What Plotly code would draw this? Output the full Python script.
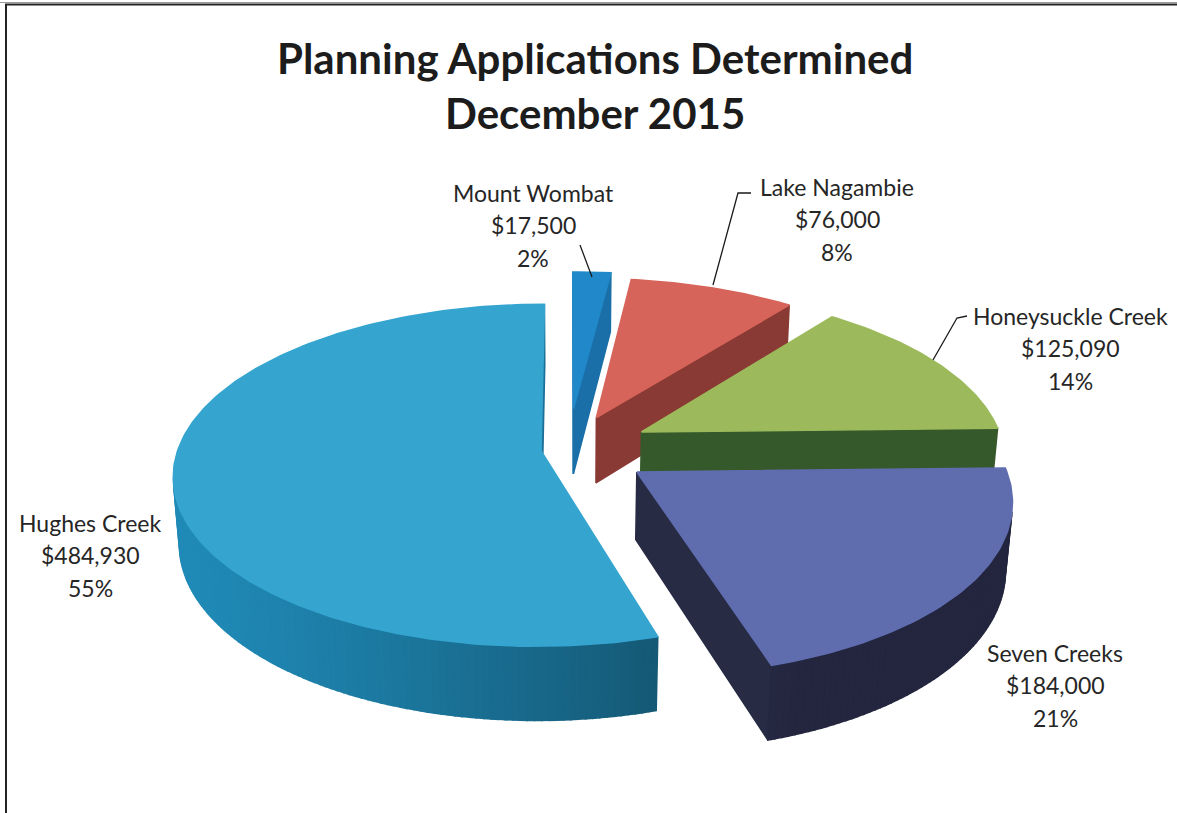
import numpy as np
import plotly.graph_objects as go

# ---------------- data ----------------
regions = ["Mount Wombat", "Lake Nagambie", "Honeysuckle Creek", "Seven Creeks", "Hughes Creek"]
values = [17500, 76000, 125090, 184000, 484930]
title_lines = ["Planning Applications Determined", "December 2015"]

# ---------------- styling ----------------
top_colors = ["#2189C9", "#D7645A", "#9CBA5B", "#5F6DAF", "#35A5D0"]
wall_colors = [(30, 125, 185), (150, 60, 55), (70, 110, 55), (57, 62, 100), (32, 138, 183)]
cut_colors = ["#1A6FA8", "#8A3A34", "#36592C", "#272B44", "#1C6F96"]
explode = [0.25, 0.21, 0.23, 0.23, 0.075]
label_centres = [(533, 225), (837, 219), (1070, 348), (1055, 685), (90, 555)]
line_gap = 32.5
leaders = [
    [(580, 245), (592, 277)],
    [(751, 193), (738, 193), (713, 285)],
    [(967, 316), (957, 318), (933, 360)],
]

W, H = 1177, 813

# ---------------- perspective camera ----------------
TILT = np.radians(27.4)
CAM_DIST = 6.22
FOCAL = 2257.0
CX, CY = 568.0, 449.0
THICK = 0.21

cam = np.array([0.0, -CAM_DIST * np.cos(TILT), CAM_DIST * np.sin(TILT)])
ax_r = np.array([1.0, 0.0, 0.0])
ax_f = np.array([0.0, np.cos(TILT), -np.sin(TILT)])
ax_u = np.array([0.0, np.sin(TILT), np.cos(TILT)])


def project(pts):
    pts = np.atleast_2d(pts)
    v = pts - cam
    zc = v @ ax_f
    sx = CX + FOCAL * (v @ ax_r) / zc
    sy = CY - FOCAL * (v @ ax_u) / zc
    return sx, sy, zc


def shade(rgb, k):
    return "rgb(%d,%d,%d)" % tuple(int(round(min(255, c * k))) for c in rgb)


# percentages rounded so that they add up to 100 (largest remainder)
vals = np.array(values, dtype=float)
frac = vals / vals.sum()
raw = frac * 100
pct = np.floor(raw).astype(int)
for i in np.argsort(-(raw - pct))[: 100 - pct.sum()]:
    pct[i] += 1

# slice angles, clockwise from 12 o'clock
starts = 90 - 360 * np.concatenate([[0], np.cumsum(frac)[:-1]])
ends = starts - 360 * frac

slices = []
for i in range(len(values)):
    a0, a1 = starts[i], ends[i]
    mid = np.radians((a0 + a1) / 2)
    off = explode[i] * np.array([np.cos(mid), np.sin(mid), 0.0])
    n = max(4, int(abs(a0 - a1) / 1.0))
    th = np.radians(np.linspace(a0, a1, n + 1))
    rim = np.stack([np.cos(th), np.sin(th), np.zeros_like(th)], axis=1) + off
    rim_b = rim - np.array([0, 0, THICK])
    apex = off.copy()
    apex_b = off - np.array([0, 0, THICK])
    faces = []
    # outer wall, in thin strips for gradual shading
    for j in range(n):
        tm = (th[j] + th[j + 1]) / 2
        nrm = np.array([np.cos(tm), np.sin(tm), 0.0])
        pm = (rim[j] + rim[j + 1]) / 2
        if (cam - pm) @ nrm <= 0:
            continue
        k = 0.62 + 0.38 * max(0.0, np.cos(tm - np.radians(-160)))
        quad = np.array([rim[j], rim[j + 1], rim_b[j + 1], rim_b[j]])
        faces.append((quad, shade(wall_colors[i], k)))
    # radial cut faces
    for ang, sgn, p_top, p_bot in [(a0, +1, rim[0], rim_b[0]), (a1, -1, rim[-1], rim_b[-1])]:
        nrm_ang = np.radians(ang + sgn * 90)
        nrm = np.array([np.cos(nrm_ang), np.sin(nrm_ang), 0.0])
        if (cam - apex) @ nrm <= 0:
            continue
        quad = np.array([apex, p_top, p_bot, apex_b])
        faces.append((quad, cut_colors[i]))
    faces.sort(key=lambda f: -project(f[0])[2].mean())
    top = np.vstack([apex, rim, apex])
    faces.append((top, top_colors[i]))
    depth_key = (apex + 0.5 * np.array([np.cos(mid), np.sin(mid), 0]))[1]
    slices.append((depth_key, faces))

fig = go.Figure()
slices.sort(key=lambda s: -s[0])
for _, faces in slices:
    for poly, col in faces:
        sx, sy, _ = project(poly)
        sx = np.append(sx, sx[0])
        sy = np.append(sy, sy[0])
        fig.add_trace(go.Scatter(
            x=sx, y=sy, mode="lines", fill="toself", fillcolor=col,
            line=dict(color=col, width=1.6), hoverinfo="skip", showlegend=False,
        ))

# leader lines
for pts in leaders:
    xs, ys = zip(*pts)
    fig.add_trace(go.Scatter(x=xs, y=ys, mode="lines", line=dict(color="#1a1a1a", width=1.3),
                             hoverinfo="skip", showlegend=False))

annotations = []
label_font = dict(family="Lato", size=23, color="#262626")
for i, name in enumerate(regions):
    cx, cy = label_centres[i]
    lines = [name, "${:,.0f}".format(values[i]), "%d%%" % pct[i]]
    for k, txt in enumerate(lines):
        annotations.append(dict(x=cx, y=cy + (k - 1) * line_gap, xref="x", yref="y", text=txt,
                                showarrow=False, font=label_font, xanchor="center", yanchor="middle"))

title_font = dict(family="Lato", size=42, color="#1c1c1c")
for k, txt in enumerate(title_lines):
    annotations.append(dict(x=595, y=58 + k * 55, xref="x", yref="y", text="<b>%s</b>" % txt,
                            showarrow=False, font=title_font, xanchor="center", yanchor="middle"))

fig.update_layout(
    width=W, height=H,
    margin=dict(l=0, r=0, t=0, b=0),
    paper_bgcolor="white", plot_bgcolor="white",
    xaxis=dict(range=[0, W], visible=False, fixedrange=True),
    yaxis=dict(range=[H, 0], visible=False, fixedrange=True),
    annotations=annotations,
    shapes=[
        dict(type="line", xref="x", yref="y", x0=0, x1=W, y0=2.5, y1=2.5, line=dict(color="#9a9a9a", width=1)),
        dict(type="line", xref="x", yref="y", x0=5, x1=W, y0=4.5, y1=4.5, line=dict(color="#222222", width=2)),
        dict(type="line", xref="x", yref="y", x0=6, x1=6, y0=4, y1=H, line=dict(color="#222222", width=2)),
    ],
)

fig.write_html("out.html", config={"displayModeBar": False})
